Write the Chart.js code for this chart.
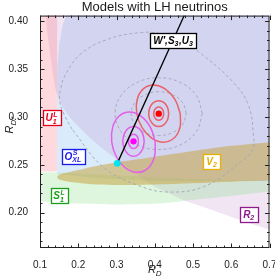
<!DOCTYPE html>
<html>
<head>
<meta charset="utf-8">
<script src="https://cdn.jsdelivr.net/npm/chart.js@4.4.1/dist/chart.umd.min.js"></script>
<style>
  html, body { margin: 0; padding: 0; background: #fff; }
</style>
</head>
<body>
<canvas id="chart" width="275" height="280"></canvas>
<script>
// axis ticks
var xTicks = [0.1, 0.2, 0.3, 0.4, 0.5, 0.6, 0.7];
var xMinorTicks = [0.12, 0.14, 0.16, 0.18, 0.22, 0.24, 0.26, 0.28, 0.32, 0.34, 0.36, 0.38,
  0.42, 0.44, 0.46, 0.48, 0.52, 0.54, 0.56, 0.58, 0.62, 0.64, 0.66, 0.68];
var yTicks = [0.20, 0.25, 0.30, 0.35, 0.40];
var yMinorTicks = [0.17, 0.18, 0.19, 0.21, 0.22, 0.23, 0.24, 0.26, 0.27, 0.28, 0.29,
  0.31, 0.32, 0.33, 0.34, 0.36, 0.37, 0.38, 0.39];

// central values
var redPoint = [0.4104, 0.3035];
var magentaPoint = [0.3445, 0.2745];
var smPoint = [0.302, 0.2515];

// W', S3, U3 line starting at the SM point
var modelLine = [[0.302, 0.2515], [0.477, 0.406]];

// red contours (inner -> outer)
var redContour1 = [[0.4235, 0.3035], [0.4217, 0.3070], [0.4170, 0.3096], [0.4104, 0.3105], [0.4039, 0.3096], [0.3991, 0.3070],
  [0.3973, 0.3035], [0.3991, 0.3000], [0.4039, 0.2974], [0.4104, 0.2965], [0.4170, 0.2974], [0.4217, 0.3000]];
var redContour2 = [[0.4366, 0.3035], [0.4331, 0.3103], [0.4235, 0.3152], [0.4104, 0.3170], [0.3973, 0.3152], [0.3877, 0.3103],
  [0.3842, 0.3035], [0.3877, 0.2968], [0.3973, 0.2918], [0.4104, 0.2900], [0.4235, 0.2918], [0.4331, 0.2968]];
var redContour3 = [[0.4668, 0.3035], [0.4527, 0.3185], [0.4270, 0.3294], [0.3969, 0.3334], [0.3701, 0.3294], [0.3542, 0.3185],
  [0.3531, 0.3035], [0.3673, 0.2886], [0.3929, 0.2777], [0.4231, 0.2736], [0.4498, 0.2777], [0.4658, 0.2886]];

// magenta contours (inner -> outer)
var magentaContour1 = [[0.3576, 0.2745], [0.3558, 0.2783], [0.3511, 0.2810], [0.3445, 0.2820], [0.3380, 0.2810], [0.3332, 0.2783],
  [0.3314, 0.2745], [0.3332, 0.2708], [0.3380, 0.2680], [0.3445, 0.2670], [0.3511, 0.2680], [0.3558, 0.2708]];
var magentaContour2 = [[0.3725, 0.2745], [0.3687, 0.2823], [0.3585, 0.2880], [0.3445, 0.2901], [0.3305, 0.2880], [0.3203, 0.2823],
  [0.3165, 0.2745], [0.3203, 0.2667], [0.3305, 0.2610], [0.3445, 0.2589], [0.3585, 0.2610], [0.3687, 0.2667]];
var magentaContour3 = [[0.4013, 0.2736], [0.3885, 0.2894], [0.3638, 0.3010], [0.3340, 0.3052], [0.3070, 0.3010], [0.2900, 0.2894],
  [0.2876, 0.2736], [0.3004, 0.2579], [0.3251, 0.2463], [0.3549, 0.2421], [0.3819, 0.2463], [0.3990, 0.2579]];

// gray dashed contours
var grayContourA = [[0.5244, 0.3035], [0.5091, 0.3223], [0.4674, 0.3360], [0.4104, 0.3410], [0.3534, 0.3360], [0.3117, 0.3223],
  [0.2964, 0.3035], [0.3117, 0.2848], [0.3534, 0.2710], [0.4104, 0.2660], [0.4674, 0.2710], [0.5091, 0.2848]];
var grayContourB = [[0.4824, 0.3035], [0.4728, 0.3150], [0.4464, 0.3233], [0.4104, 0.3264], [0.3744, 0.3233], [0.3480, 0.3150],
  [0.3384, 0.3035], [0.3480, 0.2921], [0.3744, 0.2837], [0.4104, 0.2806], [0.4464, 0.2837], [0.4728, 0.2921]];
var grayContourC = [[0.1838, 0.2872], [0.1629, 0.3028], [0.1511, 0.3174], [0.1550, 0.3309], [0.1655, 0.3434], [0.2048, 0.3653],
  [0.2755, 0.3810], [0.3620, 0.3882], [0.4144, 0.3872], [0.4668, 0.3799], [0.5140, 0.3684], [0.6031, 0.3372], [0.6450, 0.3122],
  [0.6580, 0.2809], [0.6555, 0.2653], [0.6240, 0.2528], [0.5323, 0.2278], [0.4354, 0.2215], [0.3541, 0.2288], [0.2651, 0.2476]];

// allowed regions
var regionOXL = [[0.145, 0.2405], [0.145, 0.350], [0.150, 0.375], [0.158, 0.394], [0.168, 0.406], [0.168, 0.45], [0.75, 0.45],
  [0.75, 0.2330], [0.60, 0.2330], [0.40, 0.2330], [0.25, 0.2360]];
var regionR2 = [[0.1157, 0.4059], [0.1183, 0.3903], [0.1236, 0.3747], [0.1288, 0.3591], [0.1341, 0.3434], [0.1393, 0.3309],
  [0.1472, 0.3205], [0.1576, 0.3111], [0.1707, 0.3039], [0.1865, 0.2955], [0.2048, 0.2882], [0.2231, 0.2809], [0.2441, 0.2736],
  [0.2624, 0.2674], [0.2834, 0.2611], [0.3044, 0.2549], [0.3227, 0.2486], [0.3437, 0.2424], [0.3620, 0.2372], [0.3804, 0.2320],
  [0.4013, 0.2268], [0.4406, 0.2195], [0.4800, 0.2122], [0.5192, 0.2070], [0.5716, 0.1997], [0.6371, 0.1903], [0.7026, 0.1820],
  [0.75, 0.176], [0.75, 0.45], [0.1157, 0.45]];
var regionU1 = [[0.09, 0.45], [0.145, 0.45], [0.145, 0.243], [0.09, 0.243]];
var regionS1 = [[0.09, 0.2425], [0.2, 0.241], [0.3, 0.239], [0.4, 0.237], [0.5, 0.2355], [0.6, 0.234], [0.75, 0.232],
  [0.75, 0.2235], [0.7, 0.222], [0.6, 0.2175], [0.5, 0.2135], [0.45, 0.2110], [0.4, 0.2092], [0.3, 0.2085], [0.2, 0.2095],
  [0.1, 0.2120], [0.09, 0.2125]];
var regionV2 = [[0.1445, 0.2372], [0.15, 0.2395], [0.2, 0.2445], [0.25, 0.2490], [0.3, 0.2525], [0.35, 0.2555], [0.4, 0.2585],
  [0.45, 0.2615], [0.5, 0.2645], [0.55, 0.2672], [0.6, 0.2698], [0.65, 0.2718], [0.7, 0.2737], [0.75, 0.2755],
  [0.75, 0.2340], [0.7, 0.2336], [0.65, 0.2330], [0.55, 0.2315], [0.45, 0.2300], [0.35, 0.2290], [0.25, 0.2293],
  [0.18, 0.2320], [0.15, 0.2345]];

// framed model labels
var boxLabels = [
  { at: [0.1301, 0.2992], color: '#e3001b', runs: [{ t: 'U' }, { sup: 'L', sub: '1' }] },
  { at: [0.1865, 0.2591], color: '#1a1ae6', runs: [{ t: 'O' }, { sup: 'S', sub: 'XL' }] },
  { at: [0.1498, 0.2174], color: '#1ca01c', runs: [{ t: 'S' }, { sup: 'L', sub: '1' }] },
  { at: [0.5493, 0.2539], color: '#e6b000', runs: [{ t: 'V' }, { sub: '2' }] },
  { at: [0.6463, 0.1981], color: '#8e1a8e', runs: [{ t: 'R' }, { sub: '2' }] },
  { at: [0.4485, 0.3804], color: '#000000', runs: [{ t: 'W\u2032,S' }, { sub: '3' }, { t: ',U' }, { sub: '3' }] }
];

var FONT = '"Liberation Sans", Arial, sans-serif';

function xy(list) {
  return list.map(function (p) { return { x: p[0], y: p[1] }; });
}
function closed(list) {
  return xy(list.concat([list[0]]));
}
function region(list, color, tension, order) {
  return { data: closed(list), fill: 'shape', backgroundColor: color, borderWidth: 0,
    pointRadius: 0, tension: tension, order: order };
}
function contour(list, color, width, dash, order) {
  return { data: closed(list), fill: false, borderColor: color, borderWidth: width,
    borderDash: dash || [], pointRadius: 0, tension: 0.4, order: order };
}
function dot(p, color, r) {
  return { data: xy([p]), showLine: false, pointRadius: r, pointBackgroundColor: color,
    pointBorderWidth: 0, order: 1 };
}

// frame with inward ticks, model labels and axis titles
var decor = {
  id: 'decor',
  afterDatasetsDraw: function (chart) {
    var ctx = chart.ctx, a = chart.chartArea, xs = chart.scales.x, ys = chart.scales.y;
    ctx.save();
    ctx.strokeStyle = '#222';
    ctx.lineWidth = 1;
    ctx.strokeRect(a.left + 0.5, a.top + 0.5, a.right - a.left - 1, a.bottom - a.top - 1);
    ctx.beginPath();
    function xt(v, len) {
      var px = Math.round(xs.getPixelForValue(v)) + 0.5;
      ctx.moveTo(px, a.bottom); ctx.lineTo(px, a.bottom - len);
      ctx.moveTo(px, a.top); ctx.lineTo(px, a.top + len);
    }
    function yt(v, len) {
      var py = Math.round(ys.getPixelForValue(v)) + 0.5;
      ctx.moveTo(a.left, py); ctx.lineTo(a.left + len, py);
      ctx.moveTo(a.right, py); ctx.lineTo(a.right - len, py);
    }
    xTicks.forEach(function (v) { xt(v, 4.5); });
    xMinorTicks.forEach(function (v) { xt(v, 2.5); });
    yTicks.forEach(function (v) { yt(v, 4.5); });
    yMinorTicks.forEach(function (v) { yt(v, 2.5); });
    ctx.stroke();

    var big = 'bold italic 10px ' + FONT, small = 'bold italic 7px ' + FONT;
    boxLabels.forEach(function (lab) {
      var widths = [], w = 0;
      lab.runs.forEach(function (r) {
        var rw;
        if (r.t) { ctx.font = big; rw = ctx.measureText(r.t).width; }
        else {
          ctx.font = small;
          rw = Math.max(r.sup ? ctx.measureText(r.sup).width : 0, r.sub ? ctx.measureText(r.sub).width : 0) + 0.5;
        }
        widths.push(rw); w += rw;
      });
      var cx = xs.getPixelForValue(lab.at[0]), cy = ys.getPixelForValue(lab.at[1]);
      var bw = Math.round(w + 6), bh = 15;
      var x0 = Math.round(cx - bw / 2) + 0.5, y0 = Math.round(cy - bh / 2) + 0.5;
      ctx.fillStyle = '#fff';
      ctx.fillRect(x0, y0, bw, bh);
      ctx.strokeStyle = lab.color;
      ctx.lineWidth = 1.3;
      ctx.strokeRect(x0, y0, bw, bh);
      ctx.fillStyle = lab.color;
      ctx.textAlign = 'left';
      ctx.textBaseline = 'alphabetic';
      var x = cx - w / 2, base = cy + 3.5;
      lab.runs.forEach(function (r, i) {
        if (r.t) { ctx.font = big; ctx.fillText(r.t, x, base); }
        else {
          ctx.font = small;
          if (r.sup) ctx.fillText(r.sup, x + 0.5, base - 4.5);
          if (r.sub) ctx.fillText(r.sub, x, base + 2.5);
        }
        x += widths[i];
      });
    });
    ctx.restore();
  },
  afterDraw: function (chart) {
    var ctx = chart.ctx;
    var fBig = 'italic 11px ' + FONT, fSub = 'italic 8px ' + FONT;
    function axisTitle(sub) {
      ctx.font = fBig;
      var w1 = ctx.measureText('R').width;
      ctx.font = fSub;
      var w2 = ctx.measureText(sub).width;
      var x = -(w1 + w2) / 2;
      ctx.font = fBig;
      ctx.fillText('R', x, 4);
      ctx.font = fSub;
      ctx.fillText(sub, x + w1, 6.5);
    }
    ctx.save();
    ctx.fillStyle = '#222';
    ctx.textAlign = 'left';
    ctx.textBaseline = 'alphabetic';
    ctx.translate((chart.chartArea.left + chart.chartArea.right) / 2, 269);
    axisTitle('D');
    ctx.restore();
    ctx.save();
    ctx.fillStyle = '#222';
    ctx.textAlign = 'left';
    ctx.textBaseline = 'alphabetic';
    ctx.translate(9, 125);
    ctx.rotate(-Math.PI / 2);
    axisTitle('D*');
    ctx.restore();
  }
};

new Chart(document.getElementById('chart'), {
  type: 'line',
  data: {
    datasets: [
      region(regionOXL, 'rgba(120,180,240,0.27)', 0, 20),
      region(regionR2, 'rgba(170,100,185,0.17)', 0, 19),
      region(regionU1, 'rgba(250,120,135,0.28)', 0, 18),
      region(regionS1, 'rgba(120,220,120,0.25)', 0.2, 17),
      region(regionV2, 'rgba(200,165,70,0.55)', 0.35, 16),
      contour(grayContourC, '#a6a6b6', 0.9, [3, 2.5], 10),
      contour(grayContourA, '#a6a6b6', 0.9, [3, 2.5], 10),
      contour(grayContourB, '#a6a6b6', 0.9, [3, 2.5], 10),
      contour(redContour3, 'rgb(234,98,108)', 1.5, null, 6),
      contour(redContour2, 'rgb(234,98,108)', 1.5, null, 6),
      contour(redContour1, 'rgb(234,98,108)', 1.5, null, 6),
      contour(magentaContour3, 'rgb(226,96,232)', 1.5, null, 5),
      contour(magentaContour2, 'rgb(226,96,232)', 1.5, null, 5),
      contour(magentaContour1, 'rgb(226,96,232)', 1.5, null, 5),
      { data: xy(modelLine), borderColor: '#000', borderWidth: 1.3, pointRadius: 0, tension: 0, fill: false, order: 3 },
      dot(redPoint, '#ff0000', 3.2),
      dot(magentaPoint, '#ff00ff', 3.2),
      dot(smPoint, '#00e5ee', 3.4)
    ]
  },
  options: {
    responsive: false,
    animation: false,
    events: [],
    layout: { padding: { left: 0, right: 5.5, top: 0, bottom: 0 }, autoPadding: false },
    elements: { line: { capBezierPoints: false } },
    plugins: {
      legend: { display: false },
      tooltip: { enabled: false },
      title: {
        display: true,
        text: 'Models with LH neutrinos',
        fullSize: false,
        color: '#1a1a1a',
        font: { family: FONT, size: 13, weight: 'normal' },
        padding: { top: 0, bottom: 0 }
      }
    },
    scales: {
      x: {
        type: 'linear', min: 0.1, max: 0.7,
        grid: { display: false }, border: { display: false },
        afterBuildTicks: function (s) { s.ticks = xTicks.map(function (v) { return { value: v }; }); },
        afterFit: function (s) { s.height = 32; s.paddingLeft = 0; s.paddingRight = 0; },
        ticks: {
          padding: 3, maxRotation: 0, autoSkip: false, color: '#222',
          font: { family: FONT, size: 10 },
          callback: function (v) { return Number(v).toFixed(1); }
        }
      },
      y: {
        type: 'linear', min: 0.163, max: 0.406,
        grid: { display: false }, border: { display: false },
        afterBuildTicks: function (s) { s.ticks = yTicks.map(function (v) { return { value: v }; }); },
        afterFit: function (s) { s.width = 40; s.paddingTop = 0; s.paddingBottom = 0; },
        ticks: {
          padding: 4, autoSkip: false, color: '#222',
          font: { family: FONT, size: 10 },
          callback: function (v) { return Number(v).toFixed(2); }
        }
      }
    }
  },
  plugins: [decor]
});
</script>
</body>
</html>
